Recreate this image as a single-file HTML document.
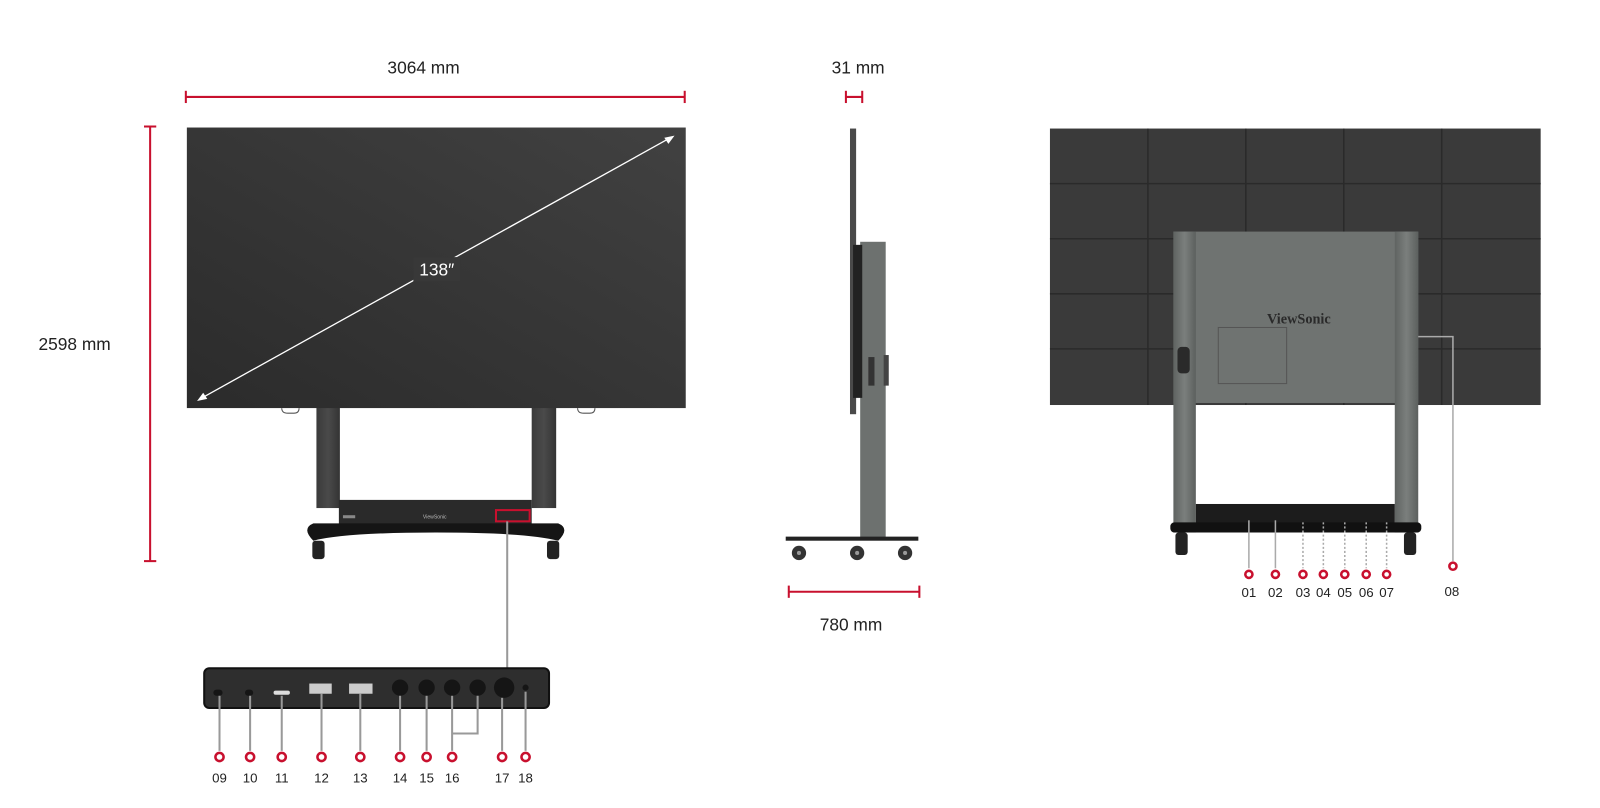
<!DOCTYPE html>
<html><head><meta charset="utf-8"><style>
html,body{margin:0;padding:0;background:#fff;width:1600px;height:808px;overflow:hidden}
text{font-family:"Liberation Sans",sans-serif}
</style></head><body>
<svg width="1600" height="808" viewBox="0 0 1568 792" xmlns="http://www.w3.org/2000/svg">
<defs>
<linearGradient id="scr" x1="0" y1="1" x2="1" y2="0"><stop offset="0" stop-color="#2b2b2b"/><stop offset="1" stop-color="#414141"/></linearGradient>
<linearGradient id="leg" x1="0" x2="1"><stop offset="0" stop-color="#3a3a3a"/><stop offset="0.5" stop-color="#4a4a4a"/><stop offset="1" stop-color="#333"/></linearGradient>
<linearGradient id="gleg" x1="0" x2="1"><stop offset="0" stop-color="#5f6361"/><stop offset="0.5" stop-color="#7b7f7d"/><stop offset="1" stop-color="#5c605e"/></linearGradient>
</defs>

<!-- FRONT VIEW -->
<g stroke="#c8102e" stroke-width="2" fill="none">
<line x1="182" y1="95" x2="671" y2="95"/><line x1="182" y1="89" x2="182" y2="101"/><line x1="671" y1="89" x2="671" y2="101"/>
<line x1="147" y1="124" x2="147" y2="550"/><line x1="141" y1="124" x2="153" y2="124"/><line x1="141" y1="550" x2="153" y2="550"/>
</g>
<text x="415" y="72" font-size="17" text-anchor="middle" fill="#222">3064 mm</text>
<text x="73" y="343" font-size="17" text-anchor="middle" fill="#222">2598 mm</text>

<rect x="310" y="398" width="23" height="100" fill="url(#leg)"/>
<rect x="521" y="398" width="24" height="100" fill="url(#leg)"/>
<rect x="183" y="125" width="489" height="275" fill="url(#scr)"/>
<path d="M276 400 q0 5 6 5 h6 q5 0 5 -5" fill="none" stroke="#555"/>
<path d="M566 400 q0 5 6 5 h6 q5 0 5 -5" fill="none" stroke="#555"/>
<line x1="196" y1="391" x2="657" y2="135" stroke="#fff" stroke-width="1.3"/>
<path d="M193 393 l10 -2 l-4 -6 z M661 133 l-10 2 l4 6 z" fill="#fff"/>
<rect x="405" y="252" width="46" height="24" fill="#383838"/>
<text x="428" y="270" font-size="17" text-anchor="middle" fill="#fff">138″</text>
<rect x="332" y="490" width="189" height="28" fill="#2a2a2a"/>
<text x="426" y="508" font-size="5" text-anchor="middle" fill="#bbb">ViewSonic</text>
<rect x="336" y="505" width="12" height="3" fill="#888"/>
<rect x="486" y="500" width="33" height="11" fill="none" stroke="#c8102e" stroke-width="2"/>
<path d="M307 530 q-12 -12 0 -17 h240 q12 5 0 17 q-30 -8 -120 -8 q-90 0 -120 8z" fill="#151515"/>
<rect x="306" y="530" width="12" height="18" rx="3" fill="#222"/><rect x="536" y="530" width="12" height="18" rx="3" fill="#222"/>
<line x1="497" y1="511" x2="497" y2="656" stroke="#999" stroke-width="2"/>

<!-- port panel -->
<rect x="200" y="655" width="338" height="39" rx="5" fill="#2e2e2e" stroke="#111" stroke-width="2"/>
<g fill="#151515">
<rect x="209" y="676" width="9" height="6" rx="3"/><rect x="240" y="676" width="8" height="6" rx="3"/>
<rect x="268" y="677" width="16" height="4" rx="2" fill="#ddd"/>
<rect x="303" y="670" width="22" height="10" fill="#ccc"/><rect x="342" y="670" width="23" height="10" fill="#ccc"/>
<circle cx="392" cy="674" r="8"/><circle cx="418" cy="674" r="8"/><circle cx="443" cy="674" r="8"/><circle cx="468" cy="674" r="8"/>
<circle cx="494" cy="674" r="10"/><circle cx="515" cy="674" r="3"/>
</g>
<g stroke="#999" stroke-width="2" fill="none">
<line x1="215" y1="682" x2="215" y2="736"/><line x1="245" y1="682" x2="245" y2="736"/><line x1="276" y1="682" x2="276" y2="736"/>
<line x1="315" y1="680" x2="315" y2="736"/><line x1="353" y1="680" x2="353" y2="736"/><line x1="392" y1="682" x2="392" y2="736"/>
<line x1="418" y1="682" x2="418" y2="736"/><line x1="443" y1="682" x2="443" y2="736"/><polyline points="443,719 468,719 468,682"/>
<line x1="492" y1="684" x2="492" y2="736"/><line x1="515" y1="678" x2="515" y2="736"/>
</g>
<g fill="#fff" stroke="#c8102e" stroke-width="2.5">
<circle cx="215" cy="742" r="4"/><circle cx="245" cy="742" r="4"/><circle cx="276" cy="742" r="4"/><circle cx="315" cy="742" r="4"/><circle cx="353" cy="742" r="4"/><circle cx="392" cy="742" r="4"/><circle cx="418" cy="742" r="4"/><circle cx="443" cy="742" r="4"/><circle cx="492" cy="742" r="4"/><circle cx="515" cy="742" r="4"/>
</g>
<g font-size="13" fill="#222" text-anchor="middle">
<text x="215" y="767">09</text><text x="245" y="767">10</text><text x="276" y="767">11</text><text x="315" y="767">12</text><text x="353" y="767">13</text><text x="392" y="767">14</text><text x="418" y="767">15</text><text x="443" y="767">16</text><text x="492" y="767">17</text><text x="515" y="767">18</text>
</g>

<!-- SIDE VIEW -->
<g stroke="#c8102e" stroke-width="2">
<line x1="829" y1="95" x2="845" y2="95"/><line x1="829" y1="89" x2="829" y2="101"/><line x1="845" y1="89" x2="845" y2="101"/>
<line x1="773" y1="580" x2="901" y2="580"/><line x1="773" y1="574" x2="773" y2="586"/><line x1="901" y1="574" x2="901" y2="586"/>
</g>
<text x="841" y="72" font-size="17" text-anchor="middle" fill="#222">31 mm</text>
<text x="834" y="618" font-size="17" text-anchor="middle" fill="#222">780 mm</text>
<rect x="833" y="126" width="6" height="280" fill="#4a4a4a"/>
<rect x="843" y="237" width="25" height="291" fill="#6d716f"/>
<rect x="836" y="240" width="9" height="150" fill="#222"/>
<rect x="851" y="350" width="6" height="28" fill="#333"/><rect x="866" y="348" width="5" height="30" fill="#444"/>
<rect x="770" y="526" width="130" height="4" fill="#222"/>
<g fill="#333"><circle cx="783" cy="542" r="7"/><circle cx="840" cy="542" r="7"/><circle cx="887" cy="542" r="7"/></g>
<g fill="#999"><circle cx="783" cy="542" r="2"/><circle cx="840" cy="542" r="2"/><circle cx="887" cy="542" r="2"/></g>

<!-- REAR VIEW -->
<rect x="1029" y="126" width="481" height="271" fill="#3a3a3a"/>
<g stroke="#2a2a2a" stroke-width="1.5">
<line x1="1125" y1="126" x2="1125" y2="397"/><line x1="1221" y1="126" x2="1221" y2="397"/><line x1="1317" y1="126" x2="1317" y2="397"/><line x1="1413" y1="126" x2="1413" y2="397"/>
<line x1="1029" y1="180" x2="1510" y2="180"/><line x1="1029" y1="234" x2="1510" y2="234"/><line x1="1029" y1="288" x2="1510" y2="288"/><line x1="1029" y1="342" x2="1510" y2="342"/>
</g>
<rect x="1150" y="227" width="240" height="168" fill="#6f7371"/>
<text x="1273" y="317" font-size="14" font-weight="bold" text-anchor="middle" fill="#2a2a2a" style="font-family:'Liberation Serif',serif">ViewSonic</text>
<rect x="1194" y="321" width="67" height="55" fill="none" stroke="#555"/>
<rect x="1150" y="227" width="22" height="295" fill="url(#gleg)"/>
<rect x="1367" y="227" width="23" height="295" fill="url(#gleg)"/>
<rect x="1154" y="340" width="12" height="26" rx="4" fill="#2a2a2a"/>
<rect x="1172" y="494" width="195" height="20" fill="#1c1c1c"/>
<rect x="1147" y="512" width="246" height="10" rx="4" fill="#111"/>
<rect x="1152" y="522" width="12" height="22" rx="3" fill="#222"/><rect x="1376" y="522" width="12" height="22" rx="3" fill="#222"/>
<g stroke="#aaa" stroke-width="1.5">
<line x1="1224" y1="510" x2="1224" y2="557"/><line x1="1250" y1="510" x2="1250" y2="557"/>
</g>
<g stroke="#aaa" stroke-width="1.5" stroke-dasharray="2 2">
<line x1="1277" y1="512" x2="1277" y2="557"/><line x1="1297" y1="512" x2="1297" y2="557"/><line x1="1318" y1="512" x2="1318" y2="557"/><line x1="1339" y1="512" x2="1339" y2="557"/><line x1="1359" y1="512" x2="1359" y2="557"/>
</g>
<polyline points="1390,330 1424,330 1424,550" fill="none" stroke="#aaa" stroke-width="1.5"/>
<g fill="#fff" stroke="#c8102e" stroke-width="2.5">
<circle cx="1224" cy="563" r="3.5"/><circle cx="1250" cy="563" r="3.5"/><circle cx="1277" cy="563" r="3.5"/><circle cx="1297" cy="563" r="3.5"/><circle cx="1318" cy="563" r="3.5"/><circle cx="1339" cy="563" r="3.5"/><circle cx="1359" cy="563" r="3.5"/><circle cx="1424" cy="555" r="3.5"/>
</g>
<g font-size="13" fill="#222" text-anchor="middle">
<text x="1224" y="585">01</text><text x="1250" y="585">02</text><text x="1277" y="585">03</text><text x="1297" y="585">04</text><text x="1318" y="585">05</text><text x="1339" y="585">06</text><text x="1359" y="585">07</text><text x="1423" y="584">08</text>
</g>
</svg>
</body></html>
